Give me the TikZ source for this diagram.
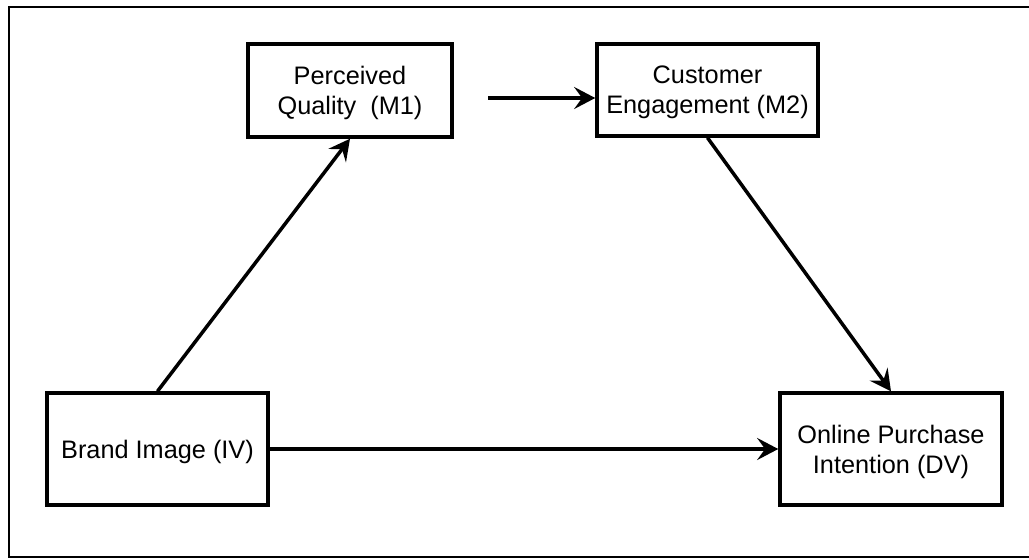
\documentclass[tikz,border=0pt]{standalone}
\usepackage{fontspec}
\setmainfont{Liberation Sans}
\usetikzlibrary{arrows.meta}
\usetikzlibrary{positioning}

\tikzset{
  var/.style={draw, line width=2pt, align=center, inner sep=2pt, text depth=0pt,
    font=\fontsize{14.4}{17.2}\selectfont},
  twoline/.style={text depth=-2.5pt},
  path/.style={->, line width=2pt},
}

\begin{document}
\begin{tikzpicture}[x=0.02cm, y=-0.02cm, >={Stealth[length=12pt,width=12.5pt,inset=4.5pt]}]
      \clip (0,0) rectangle (1029,559);
      % Outer frame, it runs off the right side
      \draw[line width=1.5pt] (9,7) rectangle (1060,557);

      % The four variables
      \node[var, twoline, minimum width=4.08cm, minimum height=1.86cm] (m1) at (350,90.5) {Perceived\\Quality\ \ (M1)};
      \node[var, twoline, minimum width=4.42cm, minimum height=1.84cm] (m2) at (707.5,90) {Customer\\Engagement (M2)};
      \node[var, minimum width=4.42cm, minimum height=2.24cm] (iv) at (157.5,449) {Brand Image (IV)};
      \node[var, twoline, minimum width=4.44cm, minimum height=2.24cm] (dv) at (891,449) {Online Purchase\\Intention (DV)};

      % Paths between them
      \coordinate (m1out) at (488,98);
      \draw[path] (iv.north) -- (m1.south);
      \draw[path] (m1out) -- (m1out -| m2.west);
      \draw[path] (m2.south) -- (dv.north);
      \draw[path] (iv.east) -- (dv.west);
\end{tikzpicture}
\end{document}
